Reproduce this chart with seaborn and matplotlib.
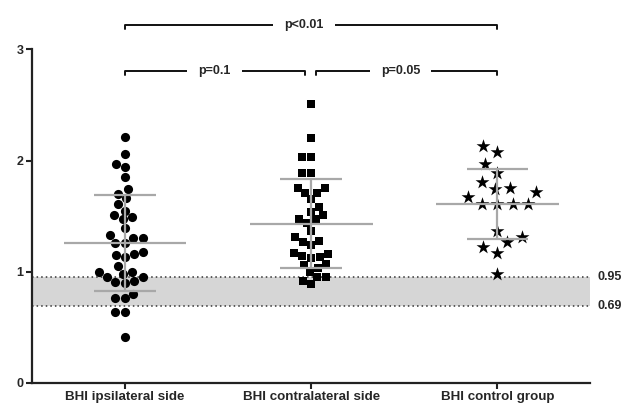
import numpy as np
import pandas as pd
import matplotlib
matplotlib.use("Agg")
import matplotlib.pyplot as plt
import seaborn as sns

# === Data ===
categories = ["BHI ipsilateral side", "BHI contralateral side", "BHI control group"]

ipsilateral = [2.21, 2.06, 1.97, 1.94, 1.85, 1.74, 1.70, 1.66, 1.61, 1.55,
               1.51, 1.47, 1.49, 1.39, 1.33, 1.30, 1.30, 1.26, 1.26, 1.18,
               1.15, 1.13, 1.16, 1.05, 0.98, 1.00, 1.00, 0.95, 0.95, 0.91,
               0.90, 0.92, 0.80, 0.76, 0.76, 0.64, 0.635, 0.41]

contralateral = [2.51, 2.20, 2.03, 2.03, 1.89, 1.89, 1.75, 1.75, 1.71, 1.71,
                 1.65, 1.58, 1.54, 1.51, 1.47, 1.47, 1.44, 1.37, 1.31, 1.27,
                 1.28, 1.24, 1.17, 1.16, 1.14, 1.13, 1.12, 1.07, 1.06, 1.03,
                 1.00, 0.95, 0.95, 0.92, 0.89]

control = [2.13, 2.08, 1.97, 1.89, 1.81, 1.72, 1.74, 1.75, 1.67, 1.61,
           1.61, 1.61, 1.61, 1.37, 1.31, 1.27, 1.22, 1.17, 0.98]

group_means = [1.26, 1.43, 1.607]
group_sds = [0.43, 0.40, 0.314]

normal_low = 0.69
normal_high = 0.95

comparisons = [(0, 2, "p<0.01"), (0, 1, "p=0.1"), (1, 2, "p=0.05")]

markers = ["o", "s", "*"]

df = pd.DataFrame({
    "group": [categories[0]] * len(ipsilateral)
             + [categories[1]] * len(contralateral)
             + [categories[2]] * len(control),
    "bhi": ipsilateral + contralateral + control,
})

# === Plot ===
sns.set_style("ticks")
plt.rcParams["font.family"] = ["Liberation Sans", "DejaVu Sans"]
plt.rcParams["font.weight"] = "bold"

fig = plt.figure(figsize=(6.26, 4.05), dpi=100)
ax = fig.add_axes([0.051, 0.055, 0.892, 0.823])

# normal range band
ax.axhspan(normal_low, normal_high, color="#d6d6d6", lw=0, zorder=0)
for yv in (normal_low, normal_high):
    ax.axhline(yv, color="#333333", ls=(0, (1, 2)), lw=1.1, zorder=1)

sizes = [6.6, 6.2, 10.5]
for i, cat in enumerate(categories):
    sns.swarmplot(data=df[df["group"] == cat], x="group", y="bhi", order=categories,
                  marker=markers[i], color="black", size=sizes[i], ax=ax,
                  linewidth=0, zorder=3)

# mean +/- SD lines
line_col = "#a8a8a8"
for i, (m, s) in enumerate(zip(group_means, group_sds)):
    ax.hlines(m, i - 0.33, i + 0.33, color=line_col, lw=1.6, zorder=5)
    ax.hlines([m - s, m + s], i - 0.165, i + 0.165, color=line_col, lw=1.6, zorder=5)
    ax.vlines(i, m - s, m + s, color=line_col, lw=1.6, zorder=5)

ax.set_xlim(-0.5, 2.5)
ax.set_ylim(0, 3)
ax.set_yticks([0, 1, 2, 3])
ax.set_xlabel("")
ax.set_ylabel("")
ax.tick_params(axis="both", length=4, width=1.5, color="#222222", pad=2)
ax.tick_params(axis="y", labelsize=9)
ax.tick_params(axis="x", labelsize=9.6)
for lab in ax.get_xticklabels() + ax.get_yticklabels():
    lab.set_fontweight("bold")
for side in ("left", "bottom"):
    ax.spines[side].set_linewidth(1.6)
    ax.spines[side].set_color("#222222")
sns.despine(ax=ax)

# band labels on the right
for yv in (normal_high, normal_low):
    ax.text(1.012, yv, f"{yv:.2f}", transform=ax.get_yaxis_transform(),
            ha="left", va="center", fontsize=9, fontweight="bold")

# significance brackets
heights = {"p<0.01": 3.22, "p=0.1": 2.81, "p=0.05": 2.81}
for a, b, label in comparisons:
    h = heights[label]
    x0, x1 = a, b
    if label == "p=0.1":
        x1 = b - 0.035
    if label == "p=0.05":
        x0 = a + 0.025
    ax.plot([x0, x0, x1, x1], [h - 0.04, h, h, h - 0.04], color="#111111",
            lw=1.4, clip_on=False, zorder=6)
    ax.text((a + b) / 2 - 0.02 * (b - a), h, label, ha="center", va="center",
            fontsize=9, fontweight="bold", clip_on=False, zorder=7,
            bbox=dict(facecolor="white", edgecolor="none", boxstyle="square,pad=0.9"))

fig.savefig("out.png", dpi=100)
